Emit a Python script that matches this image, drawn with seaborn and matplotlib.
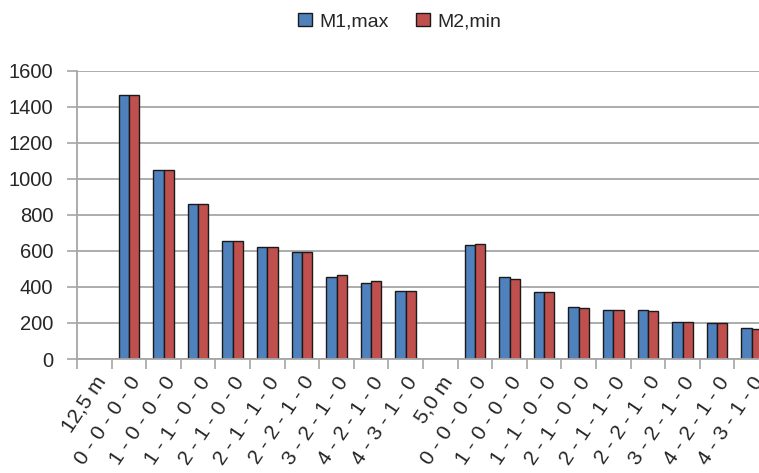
import matplotlib
matplotlib.use("Agg")
import matplotlib.pyplot as plt
import seaborn as sns
import pandas as pd
import numpy as np

# Configuration labels along the x axis (two span lengths, each a header slot + 9 layouts)
layouts = ["0 - 0 - 0 - 0", "1 - 0 - 0 - 0", "1 - 1 - 0 - 0", "2 - 1 - 0 - 0",
           "2 - 1 - 1 - 0", "2 - 2 - 1 - 0", "3 - 2 - 1 - 0", "4 - 2 - 1 - 0",
           "4 - 3 - 1 - 0"]
spans = ["12,5 m", "5,0 m"]

m1_max_125 = [1467, 1049, 862, 657, 623, 596, 457, 425, 377]
m2_min_125 = [1467, 1049, 862, 657, 623, 596, 464, 431, 377]
m1_max_50 = [631, 457, 372, 290, 272, 272, 205, 198, 172]
m2_min_50 = [637, 444, 372, 285, 272, 266, 205, 198, 166]

series_names = ["M1,max", "M2,min"]
colors = ["#4F81BD", "#C0504D"]

# Build the category order (unique keys) and the displayed tick labels
order, tick_labels = [], []
for span in spans:
    order.append(span)
    tick_labels.append(span)
    for lay in layouts:
        order.append(f"{span}|{lay}")
        tick_labels.append(lay)

rows = []
for span, v1, v2 in [(spans[0], m1_max_125, m2_min_125), (spans[1], m1_max_50, m2_min_50)]:
    for lay, a, b in zip(layouts, v1, v2):
        rows.append({"cat": f"{span}|{lay}", "series": series_names[0], "value": a})
        rows.append({"cat": f"{span}|{lay}", "series": series_names[1], "value": b})
df = pd.DataFrame(rows)

sns.set_theme(style="white")
plt.rcParams["font.family"] = ["Liberation Sans", "DejaVu Sans"]

fig = plt.figure(figsize=(7.59, 4.73), dpi=100)
ax = fig.add_axes([77 / 759, (473 - 359) / 473, 692 / 759, 288 / 473])

sns.barplot(data=df, x="cat", y="value", hue="series", order=order,
            hue_order=series_names, palette=colors, width=0.6,
            edgecolor="#1a1a1a", linewidth=1.0, saturation=1, errorbar=None,
            ax=ax, legend=True)

ax.set_xlim(-0.5, len(order) - 0.5)
ax.set_ylim(0, 1600)
ax.set_yticks(np.arange(0, 1601, 200))
ax.yaxis.grid(True, color="#A6A6A6", linewidth=1.3)
ax.set_axisbelow(True)

# Category labels at bar centers, tick marks at category boundaries
ax.set_xticks(np.arange(len(order)))
ax.set_xticklabels(tick_labels, rotation=56, ha="right", rotation_mode="anchor",
                   fontsize=15)
ax.set_xticks(np.arange(len(order) + 1) - 0.5, minor=True)
ax.tick_params(axis="x", which="major", length=0, pad=10)
ax.tick_params(axis="x", which="minor", length=7, width=1.2, color="#A6A6A6",
               direction="out", bottom=True)
ax.tick_params(axis="y", length=7, width=1.2, color="#A6A6A6", direction="out",
               left=True, labelsize=14.5, pad=10)

for s in ["top", "right"]:
    ax.spines[s].set_visible(False)
for s in ["left", "bottom"]:
    ax.spines[s].set_color("#A6A6A6")
    ax.spines[s].set_linewidth(1.3)

ax.set_xlabel("")
ax.set_ylabel("")

handles, labels = ax.get_legend_handles_labels()
ax.get_legend().remove()
fig.legend(handles, labels, loc="upper center", bbox_to_anchor=(0.527, 1.01),
           ncol=2, frameon=False, fontsize=14, handlelength=0.7,
           handleheight=0.7, handletextpad=0.4, columnspacing=1.4)

fig.savefig("out.png", dpi=100)
